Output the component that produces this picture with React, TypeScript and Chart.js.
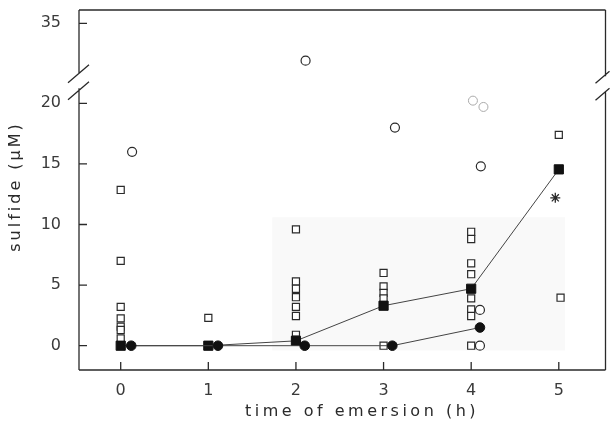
import React, { useEffect, useRef } from "react";
import { Chart, registerables } from "chart.js";
Chart.register(...registerables);

// ---- data ----
const xTickValues = [0, 1, 2, 3, 4, 5];
const yTickValues = [0, 5, 10, 15, 20, 35];

const openSquareX = [0, 0, 0, 0, 0, 0, 0, 1, 2, 2, 2, 2, 2, 2, 2, 2, 3, 3, 3, 3, 3, 4, 4, 4, 4, 4, 4, 4, 4, 5, 5.02];
const openSquareY = [12.85, 7.0, 3.2, 2.26, 1.57, 1.3, 0.6, 2.3, 9.6, 5.3, 4.7, 4.0, 3.2, 2.45, 0.9, 0.5, 6.0, 4.9, 4.35, 3.9, 0, 9.4, 8.8, 6.8, 5.9, 3.9, 3.0, 2.45, 0, 17.4, 3.96];

const openCircleX = [0.13, 2.11, 3.13, 4.11, 4.1, 4.1];
const openCircleY = [16.0, 28, 18.0, 14.8, 2.95, 0];

const fadedCircleX = [4.02, 4.14];
const fadedCircleY = [20.5, 19.7];

const filledSquareX = [0, 1, 2, 3, 4, 5];
const filledSquareY = [0, 0, 0.4, 3.3, 4.7, 14.55];

const filledCircleX = [0.12, 1.11, 2.1, 3.1, 4.1];
const filledCircleY = [0, 0, 0, 0, 1.5];

const asteriskX = [4.96];
const asteriskY = [12.2];

// ---- broken axis transform ----
const BREAK_AT = 20;
const UPPER_K = 0.44;
const tf = (v: number) => (v <= BREAK_AT ? v : BREAK_AT + (v - BREAK_AT) * UPPER_K);
const inv = (t: number) => (t <= BREAK_AT ? t : BREAK_AT + (t - BREAK_AT) / UPPER_K);
const pts = (xs: number[], ys: number[]) => xs.map((x, i) => ({ x, y: tf(ys[i]) }));

const FONT = "'DejaVu Sans', sans-serif";
const INK = "#2a2a2a";

const decorPlugin = {
  id: "decor",
  beforeDatasetsDraw(chart: any) {
    const { ctx, scales } = chart;
    const x = scales.x, y = scales.y;
    ctx.save();
    ctx.fillStyle = "#f9f9f9";
    const x0 = x.getPixelForValue(1.73), x1 = x.getPixelForValue(5.07);
    const y0 = y.getPixelForValue(10.6), y1 = y.getPixelForValue(-0.4);
    ctx.fillRect(x0, y0, x1 - x0, y1 - y0);
    ctx.restore();
  },
  afterDraw(chart: any) {
    const { ctx, chartArea, scales } = chart;
    const { left, right, top, bottom } = chartArea;
    const x = scales.x, y = scales.y;
    const brk = y.getPixelForValue(21.9);
    ctx.save();
    ctx.strokeStyle = INK;
    ctx.lineWidth = 1.3;
    ctx.beginPath();
    ctx.moveTo(left, top); ctx.lineTo(right, top);
    ctx.moveTo(left, bottom); ctx.lineTo(right, bottom);
    ctx.moveTo(left, top); ctx.lineTo(left, brk - 7);
    ctx.moveTo(left, brk + 8); ctx.lineTo(left, bottom);
    ctx.moveTo(right, top); ctx.lineTo(right, brk - 4);
    ctx.moveTo(right, brk + 12); ctx.lineTo(right, bottom);
    ctx.moveTo(left - 11, brk + 2.5); ctx.lineTo(left + 10, brk - 15.5);
    ctx.moveTo(left - 11, brk + 19.5); ctx.lineTo(left + 10, brk + 1.5);
    ctx.moveTo(right - 10, brk + 3); ctx.lineTo(right + 4, brk - 9);
    ctx.moveTo(right - 10, brk + 20); ctx.lineTo(right + 4, brk + 8);
    yTickValues.forEach((v) => {
      const p = y.getPixelForValue(tf(v));
      ctx.moveTo(left, p); ctx.lineTo(left + 8, p);
    });
    xTickValues.forEach((v) => {
      const p = x.getPixelForValue(v);
      ctx.moveTo(p, bottom); ctx.lineTo(p, bottom - 8);
    });
    ctx.stroke();

    ctx.fillStyle = INK;
    ctx.font = `16px ${FONT}`;
    ctx.textAlign = "center";
    ctx.textBaseline = "middle";
    (ctx as any).letterSpacing = "3.5px";
    ctx.fillText("time of emersion (h)", 362, 412);
    (ctx as any).letterSpacing = "3px";
    ctx.translate(16, 188);
    ctx.rotate(-Math.PI / 2);
    ctx.fillText("sulfide (\u03bcM)", 1.5, 0);
    ctx.restore();
  },
};

export default function App() {
  const ref = useRef<HTMLCanvasElement | null>(null);
  useEffect(() => {
    if (!ref.current) return;
    const chart = new Chart(ref.current, {
      type: "scatter",
      data: {
        datasets: [
          {
            type: "line",
            data: pts(filledCircleX, filledCircleY),
            borderColor: "#444",
            borderWidth: 1,
            backgroundColor: "#111",
            pointBackgroundColor: "#111",
            pointBorderColor: "#111",
            pointStyle: "circle",
            pointRadius: 4.8,
            showLine: true,
          },
          {
            type: "line",
            data: pts(filledSquareX, filledSquareY),
            borderColor: "#444",
            borderWidth: 1,
            backgroundColor: "#111",
            pointBackgroundColor: "#111",
            pointBorderColor: "#111",
            pointStyle: "rect",
            pointRadius: 6.5,
            showLine: true,
          },
          {
            data: pts(asteriskX, asteriskY),
            pointStyle: "star",
            pointRadius: 5,
            borderColor: INK,
            borderWidth: 1.3,
            backgroundColor: INK,
          },
          {
            data: pts(openCircleX, openCircleY),
            pointStyle: "circle",
            pointRadius: 4.5,
            borderColor: INK,
            borderWidth: 1.2,
            backgroundColor: "#fff",
          },
          {
            data: pts(fadedCircleX, fadedCircleY),
            pointStyle: "circle",
            pointRadius: 4.5,
            borderColor: "#aaa",
            borderWidth: 1,
            backgroundColor: "#fff",
          },
          {
            data: pts(openSquareX, openSquareY),
            pointStyle: "rect",
            pointRadius: 5,
            borderColor: INK,
            borderWidth: 1.2,
            backgroundColor: "#fff",
          },
        ],
      },
      options: {
        responsive: false,
        animation: false,
        events: [],
        layout: { padding: { top: 10, right: 4, left: 0, bottom: 0 } },
        plugins: { legend: { display: false }, tooltip: { enabled: false } },
        scales: {
          x: {
            type: "linear",
            min: -0.476,
            max: 5.533,
            grid: { display: false, drawTicks: false },
            border: { display: false },
            afterBuildTicks: (s: any) => {
              s.ticks = xTickValues.map((v) => ({ value: v }));
            },
            afterFit: (s: any) => {
              s.height = 53;
              s.paddingLeft = 0;
              s.paddingRight = 0;
            },
            ticks: {
              padding: 11,
              color: "#3a3a3a",
              font: { family: FONT, size: 16 },
              callback: (v: any) => String(v),
            },
          },
          y: {
            type: "linear",
            min: -2.005,
            max: 27.7,
            grid: { display: false, drawTicks: false },
            border: { display: false },
            afterBuildTicks: (s: any) => {
              s.ticks = yTickValues.map((v) => ({ value: tf(v) }));
            },
            afterFit: (s: any) => {
              s.width = 79;
              s.paddingTop = 0;
              s.paddingBottom = 0;
            },
            ticks: {
              padding: 18,
              color: "#3a3a3a",
              font: { family: FONT, size: 16 },
              callback: (v: any) => String(Math.round(inv(Number(v)))),
            },
          },
        },
      },
      plugins: [decorPlugin],
    } as any);
    return () => chart.destroy();
  }, []);
  return (
    <div style={{ position: "fixed", left: 0, top: 0, width: 613, height: 423, background: "#fff" }}>
      <canvas ref={ref} width={613} height={423} style={{ display: "block" }} />
    </div>
  );
}
